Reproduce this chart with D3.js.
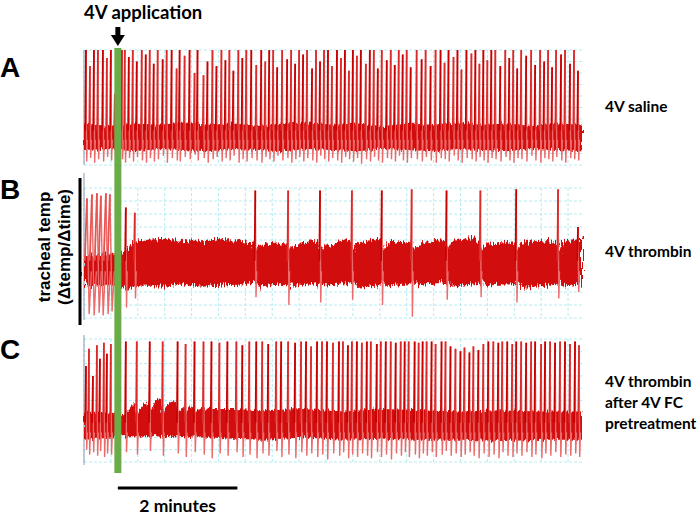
<!DOCTYPE html>
<html>
<head>
<meta charset="utf-8">
<script src="https://cdn.jsdelivr.net/npm/d3@7"></script>
<style>
  body { margin: 0; background: #fff; }
  svg text { font-family: Lato, "Open Sans", sans-serif; font-weight: bold; fill: #000; }
  svg text.arial { font-family: "Liberation Sans", Arial, sans-serif; }
</style>
</head>
<body>
<div id="chart"></div>
<script>
// time axis in seconds, 0..500 s of recording
var tEnd = 500;
var applyT = 34;      // 4V application
var scaleSec = 120;   // "2 minutes" bar
var gridT = [0, 27, 54, 81, 108, 135, 162, 189, 216, 243, 270, 297, 324, 351, 378, 405, 432, 459, 486];
var gridY = [0, 10, 20, 30, 40, 50, 60, 70, 80, 90, 100];

// spikes: [time s, peak, trough] in % of panel height
var aSpikes = [[2,100,3],[6,86,6],[10,100,2],[14,100,5],[19,100,3],[23,93,7],[27,100,4],[31,62,8],[38,100,5],[41,100,2],[45,94,6],[49,100,3],[53,90,7],[58,100,4],[62,96,2],[66,100,6],[70,88,3],[74,100,5],[79,92,8],[83,100,2],[88,100,6],[93,84,4],[96,100,3],[101,95,7],[106,100,5],[111,80,9],[114,100,4],[120,78,6],[124,90,2],[129,100,5],[133,86,7],[138,100,3],[142,91,6],[146,100,4],[150,82,8],[155,100,2],[159,93,5],[163,100,3],
  [168,100,6],[173,87,4],[178,100,2],[182,90,7],[186,100,5],[190,100,3],[194,85,8],[199,100,4],[204,92,6],[208,100,2],[212,88,5],[216,100,7],[220,96,3],[224,100,6],[229,84,4],[233,100,2],[237,90,8],[241,100,5],[245,100,3],[249,86,6],[254,100,4],[258,93,2],[262,100,7],[266,82,5],[270,100,3],[274,95,6],[278,100,1],[283,88,5],[287,100,3],[291,100,7],[295,84,4],[299,100,2],[304,91,6],[308,100,5],[312,87,3],[316,100,8],[320,96,4],[324,100,2],[328,85,6],
  [334,100,5],[339,92,3],[343,100,7],[348,86,4],[353,100,2],[358,100,6],[362,89,5],[366,100,3],[371,94,8],[375,100,4],[379,83,2],[384,100,6],[389,97,5],[393,100,3],[397,88,7],[401,100,4],[405,91,2],[409,100,6],[413,100,5],[418,86,3],[423,100,7],[427,93,4],[431,100,2],[435,84,6],[439,100,5],[444,95,3],[449,100,8],[453,87,4],[458,100,2],[462,90,6],[466,100,5],[470,85,3],[474,100,7],[479,96,4],[483,100,2],[488,88,6],[492,100,5],[496,82,4]];

var bSpikes = [[3,92,3],[8,95,2],[13,96,4],[17,94,2],[22,96,3],[26,95,5],
  [42,85,8],[51,81,15],[172,98,16],[205,98,10],[237,98,12],[269,98,14],[299,98,10],[329,99,1],[364,98,14],[398,98,16],[434,99,12],[476,99,15],[496,70,20]];

var cSpikes = [[2,78,10],[5,92,6],[9,70,8],[13,95,5],[16,84,9],[20,97,4],[23,88,7],[27,96,6],
  [42,98,8],[53,98,6],[66,98,9],[79,98,5],[94,98,7],[102,96,4],[111,98,8],[120,98,6],[128,98,3],[136,97,7],[144,98,5],[153,98,8],[159,95,4],[166,98,6],[173,98,3],[179,98,7],[185,96,5],[193,98,9],[198,98,4],[205,98,6],[212,97,3],[218,98,8],[223,98,5],[228,94,7],[234,98,4],[239,98,6],[244,98,2],[250,97,7],[256,98,5],[260,98,8],[265,95,3],[269,98,6],[274,98,4],[279,97,7],[284,98,5],[288,98,3],[294,96,8],[298,98,4],[303,98,6],[308,98,2],[313,97,7],[318,98,5],[322,98,8],[326,98,4],
  [332,98,6],[336,97,3],[340,98,7],[344,98,5],[349,98,8],[353,96,4],[359,98,6],[363,98,9],[368,94,5],[373,92,7],[378,90,4],[382,93,6],[387,89,8],[391,94,5],[396,91,3],[401,96,7],[406,98,4],[411,98,6],[416,97,3],[420,98,8],[425,98,5],[430,96,4],[434,98,7],[439,98,5],[444,97,8],[449,98,4],[453,98,6],[459,96,3],[463,98,7],[468,98,5],[473,97,8],[478,98,4],[483,98,6],[488,96,5],[493,98,7],[497,95,4]];

// noise band envelope: [time s, upper, lower]
var aBand = [[0,36,13],[25,34,14],[50,36,12],[75,35,14],[100,37,13],[125,35,12],[150,36,14],[175,34,13],[200,36,12],[225,37,14],[250,35,13],[275,36,12],[300,34,14],[325,36,13],[350,35,12],[375,37,14],[400,35,13],[425,36,12],[450,34,14],[475,36,13],[500,35,12]];
var bBand = [[0,48,24],[28,50,26],[44,52,22],[48,58,24],[60,60,25],[80,61,24],[100,60,26],[120,59,24],[140,61,25],[160,59,26],[170,58,27],[173,52,28],[176,57,24],[195,58,26],[204,58,25],[207,52,28],[210,56,24],[230,60,26],[236,58,25],[239,52,28],[242,56,25],[262,60,26],[268,58,26],[271,52,28],[274,57,23],[296,61,25],[298,58,26],[301,52,28],[304,58,24],[325,60,26],[328,58,26],[331,52,28],[334,56,25],[358,61,27],[363,58,26],[366,52,28],[369,58,24],[392,62,26],[397,58,26],[400,52,28],[403,56,25],[428,59,26],[433,57,26],[436,52,28],[439,58,23],[466,60,25],[475,58,26],[478,50,28],[481,58,24],[500,62,26]];
var cBand = [[0,40,18],[28,40,20],[40,38,22],[44,42,20],[50,48,21],[53,40,22],[58,46,20],[63,50,22],[66,40,20],[72,50,22],[77,52,20],[79,40,20],[86,48,21],[92,50,20],[94,40,22],[100,46,20],[102,40,21],[108,46,20],[111,40,22],[118,44,20],[128,43,20],[150,43,19],[180,42,18],[220,43,20],[260,41,18],[300,43,19],[340,42,18],[380,41,18],[420,42,17],[460,41,18],[500,41,18]];

var panelNames = ['A', 'B', 'C'];
var conditions = [['4V saline'], ['4V thrombin'], ['4V thrombin', 'after 4V FC', 'pretreatment']];

var width = 700, height = 517;
var svg = d3.select('#chart').append('svg')
  .attr('width', width)
  .attr('height', height);

// recorder noise texture for the bands
var defs = svg.append('defs');
[['roughA', 7], ['roughB', 12]].forEach(function(f) {
  var flt = defs.append('filter').attr('id', f[0])
    .attr('x', '-2%').attr('y', '-40%').attr('width', '104%').attr('height', '180%');
  flt.append('feTurbulence')
    .attr('type', 'fractalNoise').attr('baseFrequency', '0.7 0.08')
    .attr('numOctaves', 2).attr('seed', 4).attr('result', 'n');
  flt.append('feDisplacementMap')
    .attr('in', 'SourceGraphic').attr('in2', 'n')
    .attr('scale', f[1]).attr('xChannelSelector', 'R').attr('yChannelSelector', 'G');
});

var x = d3.scaleLinear().domain([0, tEnd]).range([84, 582]);

var panels = [
  {top: 50, bottom: 165, spikes: aSpikes, band: aBand, base: 30, rough: 'roughA', letterY: 77, labelY: [112], edge: [50, 165]},
  {top: 188, bottom: 318, spikes: bSpikes, band: bBand, base: 44, rough: 'roughB', letterY: 199, labelY: [257], edge: [173, 320]},
  {top: 339, bottom: 462, spikes: cSpikes, band: cBand, base: 32, rough: 'roughA', letterY: 359, labelY: [387, 408, 429], edge: [335, 465]}
];

panels.forEach(function(p, i) {
  var y = d3.scaleLinear().domain([0, 100]).range([p.bottom, p.top]);
  var g = svg.append('g');

  // recorder grid
  g.selectAll('.hg').data(gridY).enter().append('line')
    .attr('x1', x(0)).attr('x2', x(tEnd))
    .attr('y1', function(d) { return y(d); }).attr('y2', function(d) { return y(d); })
    .style('stroke', '#b4ecf2').style('stroke-dasharray', '3,2');
  g.selectAll('.vg').data(gridT).enter().append('line')
    .attr('x1', function(d) { return x(d); }).attr('x2', function(d) { return x(d); })
    .attr('y1', y(100)).attr('y2', y(0))
    .style('stroke', '#b4ecf2').style('stroke-dasharray', '3,2');

  g.append('line')
    .attr('x1', x(0)).attr('x2', x(0)).attr('y1', p.edge[0]).attr('y2', p.edge[1])
    .style('stroke', '#8a9bb0').style('stroke-width', 1);

  var area = d3.area()
    .x(function(d) { return x(d[0]); })
    .y0(function(d) { return y(d[2]); })
    .y1(function(d) { return y(d[1]); });
  g.append('path').datum(p.band)
    .attr('d', area)
    .attr('filter', 'url(#' + p.rough + ')')
    .style('fill', '#d20d0d');

  var line = d3.line()
    .x(function(d) { return x(d[0]); })
    .y(function(d) { return y(d[1]); });

  p.spikes.forEach(function(s, k) {
    var pre = (i == 1 && s[0] < applyT);
    var w = pre ? 2.2 : 0.7;
    // down stroke (lighter)
    g.append('path')
      .attr('d', line([[s[0], s[1]], [s[0] + w, s[2]], [s[0] + 2 * w, p.base - 8]]))
      .style('fill', 'none')
      .style('stroke', '#ec6a6a')
      .style('stroke-width', 1.4);
    // up stroke
    g.append('path')
      .attr('d', line([[s[0] - w, p.base], [s[0], s[1]]]))
      .style('fill', 'none')
      .style('stroke', pre ? '#e8524f' : (k % 2 ? '#dc2a2a' : '#c80000'))
      .style('stroke-width', 1.8);
  });

  g.append('text').attr('class', 'arial')
    .attr('x', 0).attr('y', p.letterY)
    .style('font-size', '28px')
    .text(panelNames[i]);

  conditions[i].forEach(function(t, j) {
    g.append('text')
      .attr('x', 605).attr('y', p.labelY[j])
      .style('font-size', '15.5px')
      .text(t);
  });
});

// 4V application marker
svg.append('rect')
  .attr('x', x(applyT) - 3.5).attr('width', 7)
  .attr('y', 48).attr('height', 425)
  .style('fill', '#6aad48');

svg.append('text')
  .attr('x', 84).attr('y', 19)
  .style('font-size', '18.5px')
  .text('4V application');

var ax = x(applyT);
svg.append('path')
  .attr('d', 'M' + (ax - 2.5) + ',27 L' + (ax + 2.5) + ',27 L' + (ax + 2.5) + ',35 L' + (ax + 7) + ',35 L' + ax + ',46 L' + (ax - 7) + ',35 L' + (ax - 2.5) + ',35 Z')
  .style('fill', '#000');

// y label and bar
svg.append('line')
  .attr('x1', 80).attr('x2', 80).attr('y1', 178).attr('y2', 325)
  .style('stroke', '#000').style('stroke-width', 3);

svg.append('text').attr('class', 'arial')
  .attr('transform', 'translate(50,247) rotate(-90)')
  .style('text-anchor', 'middle').style('font-size', '17px')
  .text('tracheal temp');
svg.append('text').attr('class', 'arial')
  .attr('transform', 'translate(70,247) rotate(-90)')
  .style('text-anchor', 'middle').style('font-size', '17px')
  .text('(\u0394temp/\u0394time)');

// time scale bar
svg.append('line')
  .attr('x1', x(applyT)).attr('x2', x(applyT + scaleSec))
  .attr('y1', 488).attr('y2', 488)
  .style('stroke', '#000').style('stroke-width', 3);
svg.append('text')
  .attr('x', (x(applyT) + x(applyT + scaleSec)) / 2).attr('y', 512)
  .style('text-anchor', 'middle').style('font-size', '17.5px')
  .text('2 minutes');
</script>
</body>
</html>
